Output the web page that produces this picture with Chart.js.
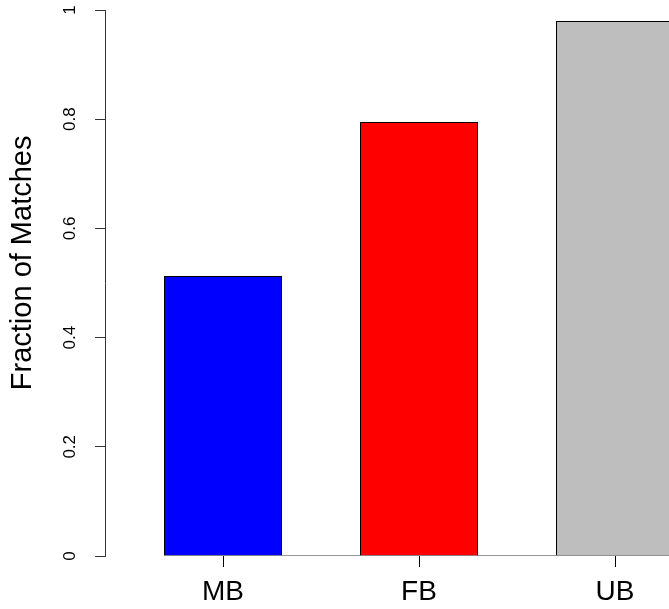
<!DOCTYPE html>
<html>
<head>
<meta charset="utf-8">
<script src="https://cdn.jsdelivr.net/npm/chart.js@4.4.1/dist/chart.umd.min.js"></script>
<style>
html,body{margin:0;padding:0;background:#fff;}
canvas{display:block;}
</style>
</head>
<body>
<canvas id="c" width="669" height="609"></canvas>
<script>
// ---- data ----
const categories = ["MB", "FB", "UB"];
const fractions = [0.513, 0.795, 0.98];
const barColors = ["#0000FF", "#FF0000", "#BEBEBE"];
const yTickLabels = ["0", "0.2", "0.4", "0.6", "0.8", "1"];
const yTitle = "Fraction of Matches";

// ---- layout constants ----
const barFrac = 118 / 196;          // bar width as fraction of spacing
const xMin = 1 - 118 / 196;         // left edge of plot region in bar units
const xMax = xMin + 564 / 196;      // right edge of plot region
const FONT = "'Liberation Sans', Arial, Helvetica, sans-serif";
const NB = "\u00a0";

const barData = categories.map((c, i) => ({ x: i + 1, y: fractions[i] }));
const baseData = [{ x: 1 - barFrac / 2, y: 0 }, { x: xMax + 0.5, y: 0 }];

new Chart(document.getElementById("c"), {
  type: "bar",
  data: {
    datasets: [
      {
        type: "bar",
        data: barData,
        backgroundColor: barColors,
        borderColor: "#000",
        borderWidth: 1,
        barPercentage: 1,
        categoryPercentage: barFrac,
        order: 2
      },
      {
        type: "line",
        data: baseData,
        borderColor: "#333",
        borderWidth: 1,
        pointRadius: 0,
        fill: false,
        order: 1
      }
    ]
  },
  options: {
    responsive: false,
    animation: false,
    events: [],
    layout: { padding: { top: 10, left: 0, right: 0, bottom: 0 } },
    plugins: { legend: { display: false }, tooltip: { enabled: false } },
    scales: {
      x: {
        type: "linear",
        min: xMin,
        max: xMax,
        offset: false,
        border: { display: false },
        grid: { display: true, offset: false, drawOnChartArea: false, drawTicks: true, tickLength: 11, color: "#000", lineWidth: 1 },
        afterBuildTicks: (s) => { s.ticks = categories.map((c, i) => ({ value: i + 1 })); },
        ticks: {
          autoSkip: false,
          maxRotation: 0,
          padding: 8,
          color: "#000",
          font: { family: FONT, size: 28 },
          callback: (v) => categories[Math.round(v) - 1]
        },
        afterFit: (s) => { s.height = 53; s.paddingLeft = 0; s.paddingRight = 0; }
      },
      y: {
        type: "linear",
        min: 0,
        max: 1,
        border: { display: true, color: "#333", width: 1 },
        grid: { display: true, drawOnChartArea: false, drawTicks: true, tickLength: 10, color: "#333", lineWidth: 1 },
        afterBuildTicks: (s) => { s.ticks = yTickLabels.map((t, i) => ({ value: i * 0.2 })); },
        ticks: {
          autoSkip: false,
          minRotation: 90,
          maxRotation: 90,
          crossAlign: "center",
          padding: 13,
          color: "#000",
          font: { family: FONT, size: 17 },
          callback: (v, i) => yTickLabels[i]
        },
        title: {
          display: true,
          text: NB.repeat(5) + yTitle,
          color: "#000",
          font: { family: FONT, size: 29 },
          padding: { top: 6, bottom: 0 }
        },
        afterFit: (s) => { s.width = 105; s.paddingTop = 0; s.paddingBottom = 0; }
      }
    }
  }
});
</script>
</body>
</html>
